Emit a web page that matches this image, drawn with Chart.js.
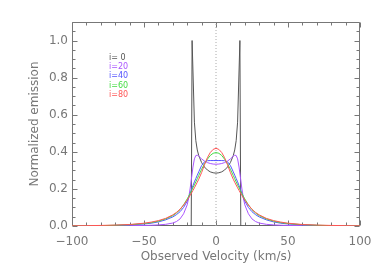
<!DOCTYPE html>
<html>
<head>
<meta charset="utf-8">
<title>Normalized emission</title>
<script src="https://cdn.jsdelivr.net/npm/chart.js@4.4.0/dist/chart.umd.min.js"></script>
<style>
  html, body { margin: 0; padding: 0; background: #fff; }
  #wrap { width: 382px; height: 273px; }
</style>
</head>
<body>
<div id="wrap"><canvas id="profileChart"></canvas></div>
<script>
// --- values ---
const velocity = [-100, -90, -80, -70, -60, -50, -45, -40, -35, -30, -27.5, -25, -22.5, -20, -19, -18, -17, -16, -15, -14, -13, -12, -10, -8, -6, -4, -2,
  0,
  2, 4, 6, 8, 10, 12, 13, 14, 15, 16, 17, 18, 19, 20, 22.5, 25, 27.5, 30, 35, 40, 45, 50, 60, 70, 80, 90, 100];

const emis20 = [0, 0, 0.001, 0.001, 0.002, 0.003, 0.004, 0.006, 0.009, 0.016, 0.024, 0.038, 0.066, 0.114, 0.15, 0.2, 0.258, 0.318, 0.362, 0.38, 0.382, 0.376, 0.362, 0.35, 0.342, 0.337, 0.334,
  0.333,
  0.334, 0.337, 0.342, 0.35, 0.362, 0.376, 0.382, 0.38, 0.362, 0.318, 0.258, 0.2, 0.15, 0.114, 0.066, 0.038, 0.024, 0.016, 0.009, 0.006, 0.004, 0.003, 0.002, 0.001, 0.001, 0, 0];

const emis40 = [0, 0.001, 0.002, 0.003, 0.006, 0.011, 0.015, 0.022, 0.033, 0.049, 0.061, 0.077, 0.1, 0.134, 0.153, 0.175, 0.197, 0.218, 0.238, 0.256, 0.274, 0.292, 0.326, 0.346, 0.352, 0.353, 0.353,
  0.353,
  0.353, 0.353, 0.352, 0.346, 0.326, 0.292, 0.274, 0.256, 0.238, 0.218, 0.197, 0.175, 0.153, 0.134, 0.1, 0.077, 0.061, 0.049, 0.033, 0.022, 0.015, 0.011, 0.006, 0.003, 0.002, 0.001, 0];

const emis60 = [0.001, 0.001, 0.002, 0.004, 0.007, 0.013, 0.018, 0.026, 0.038, 0.056, 0.07, 0.088, 0.114, 0.146, 0.16, 0.175, 0.19, 0.206, 0.222, 0.238, 0.255, 0.272, 0.306, 0.335, 0.36, 0.38, 0.392,
  0.396,
  0.392, 0.38, 0.36, 0.335, 0.306, 0.272, 0.255, 0.238, 0.222, 0.206, 0.19, 0.175, 0.16, 0.146, 0.114, 0.088, 0.07, 0.056, 0.038, 0.026, 0.018, 0.013, 0.007, 0.004, 0.002, 0.001, 0.001];

const emis80 = [0.001, 0.002, 0.003, 0.005, 0.008, 0.015, 0.021, 0.029, 0.041, 0.06, 0.073, 0.09, 0.113, 0.14, 0.152, 0.165, 0.178, 0.192, 0.206, 0.221, 0.236, 0.252, 0.288, 0.33, 0.368, 0.396, 0.413,
  0.419,
  0.413, 0.396, 0.368, 0.33, 0.288, 0.252, 0.236, 0.221, 0.206, 0.192, 0.178, 0.165, 0.152, 0.14, 0.113, 0.09, 0.073, 0.06, 0.041, 0.029, 0.021, 0.015, 0.008, 0.005, 0.003, 0.002, 0.001];

// i=0 profile has its own sampling (sharp horns at the edges)
const velocity0 = [-100, -17.2, -16.6, -15, -14, -13, -12, -10, -8, -6, -4, -2, 0, 2, 4, 6, 8, 10, 12, 13, 14, 15, 16.6, 17.2, 100];
const emis0 = [0, 0, 1.0, 0.56, 0.46, 0.41, 0.38, 0.342, 0.318, 0.302, 0.292, 0.287, 0.285, 0.287, 0.292, 0.302, 0.318, 0.342, 0.38, 0.41, 0.46, 0.56, 1.0, 0, 0];

// dotted line at zero velocity
const zeroLineX = [0, 0];
const zeroLineY = [0, 1.1];

const xTicks = [-100, -50, 0, 50, 100];
const yTicks = [0, 0.2, 0.4, 0.6, 0.8, 1.0];
const seriesLabels = ["i= 0", "i=20", "i=40", "i=60", "i=80"];
const seriesColors = ["#555555", "#aa55ff", "#5555ff", "#44dd44", "#ff5555"];

const AXIS_COLOR = "#777";
const TEXT_COLOR = "#777";
const FONT = "'DejaVu Sans', sans-serif";

function toPoints(xs, ys) {
    return xs.map((v, k) => ({ x: v, y: ys[k] }));
}

// box with inward ticks on all four sides (IDL style)
const framePlugin = {
    id: "frame",
    beforeDatasetsDraw(chart) {
        const { ctx, chartArea: a, scales: { x, y } } = chart;
        const L = Math.round(a.left) + 0.5, R = Math.round(a.right) - 0.5;
        const T = Math.round(a.top) + 0.5, B = Math.round(a.bottom) - 0.5;
        ctx.save();
        ctx.strokeStyle = AXIS_COLOR;
        ctx.lineWidth = 1;
        ctx.beginPath();
        ctx.rect(L, T, R - L, B - T);
        for (let k = -10; k <= 10; k++) {
            const px = Math.round(x.getPixelForValue(k * 10)) + 0.5;
            const len = k % 5 === 0 ? 5 : 3;
            ctx.moveTo(px, B); ctx.lineTo(px, B - len);
            ctx.moveTo(px, T); ctx.lineTo(px, T + len);
        }
        for (let k = 0; k <= 22; k++) {
            const py = Math.round(y.getPixelForValue(k * 0.05)) + 0.5;
            const len = k % 4 === 0 ? 5 : 3;
            ctx.moveTo(L, py); ctx.lineTo(L + len, py);
            ctx.moveTo(R, py); ctx.lineTo(R - len, py);
        }
        ctx.stroke();
        ctx.restore();
    }
};

// the little coloured key in the upper left
const keyPlugin = {
    id: "key",
    afterDraw(chart) {
        const { ctx } = chart;
        ctx.save();
        ctx.font = "8px " + FONT;
        ctx.textBaseline = "middle";
        ctx.textAlign = "left";
        seriesLabels.forEach((t, k) => {
            ctx.fillStyle = seriesColors[k];
            ctx.fillText(t, 109, 57.5 + k * 9.4);
        });
        ctx.restore();
    }
};

function lineSet(label, xs, ys, color, order) {
    return {
        label: label,
        data: toPoints(xs, ys),
        borderColor: color,
        borderWidth: 1,
        pointRadius: 0,
        showLine: true,
        tension: 0,
        order: order
    };
}

const ctx = document.getElementById("profileChart").getContext("2d");
new Chart(ctx, {
    type: "scatter",
    data: {
        datasets: [
            lineSet(seriesLabels[4], velocity, emis80, seriesColors[4], 1),
            lineSet(seriesLabels[3], velocity, emis60, seriesColors[3], 2),
            lineSet(seriesLabels[2], velocity, emis40, seriesColors[2], 3),
            lineSet(seriesLabels[1], velocity, emis20, seriesColors[1], 4),
            lineSet(seriesLabels[0], velocity0, emis0, seriesColors[0], 5),
            Object.assign(lineSet("v=0", zeroLineX, zeroLineY, "#aaaaaa", 6), { borderDash: [1, 2] })
        ]
    },
    options: {
        responsive: true,
        maintainAspectRatio: false,
        animation: false,
        devicePixelRatio: 1,
        layout: { padding: { left: 0, right: 22, top: 22, bottom: 0 } },
        plugins: {
            legend: { display: false },
            tooltip: { enabled: false }
        },
        scales: {
            x: {
                type: "linear",
                min: -100,
                max: 100,
                grid: { display: false, drawTicks: false },
                border: { display: false },
                afterBuildTicks: s => { s.ticks = xTicks.map(v => ({ value: v })); },
                afterFit: s => { s.height = 47; },
                ticks: {
                    color: TEXT_COLOR,
                    font: { family: FONT, size: 12 },
                    padding: 9,
                    maxRotation: 0,
                    callback: v => String(v).replace("-", "\u2212")
                },
                title: {
                    display: true,
                    text: "Observed Velocity (km/s)",
                    color: TEXT_COLOR,
                    font: { family: FONT, size: 12 },
                    padding: { top: 0, bottom: 9 }
                }
            },
            y: {
                type: "linear",
                min: 0,
                max: 1.1,
                grid: { display: false, drawTicks: false },
                border: { display: false },
                afterBuildTicks: s => { s.ticks = yTicks.map(v => ({ value: v })); },
                afterFit: s => { s.width = 72; },
                ticks: {
                    color: TEXT_COLOR,
                    font: { family: FONT, size: 12 },
                    padding: 4,
                    callback: v => v.toFixed(1)
                },
                title: {
                    display: true,
                    text: "Normalized emission",
                    color: TEXT_COLOR,
                    font: { family: FONT, size: 12 },
                    padding: { top: 28, bottom: 0 }
                }
            }
        }
    },
    plugins: [framePlugin, keyPlugin]
});
</script>
</body>
</html>
